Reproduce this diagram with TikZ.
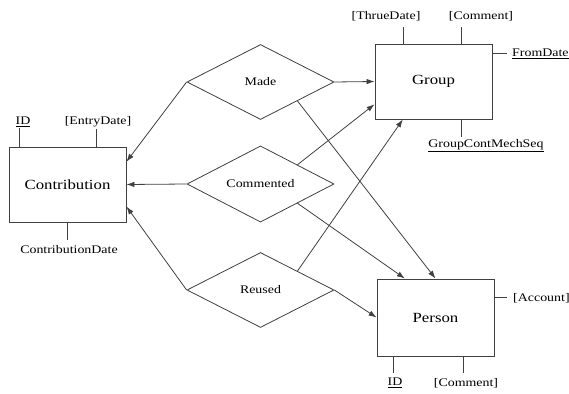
\documentclass[tikz,border=0pt]{standalone}
\usepackage{fontspec}
\setmainfont[FakeStretch=1.2]{Liberation Serif}
\usetikzlibrary{shapes.geometric,arrows.meta,calc}
\begin{document}
\begin{tikzpicture}[x=1pt,y=-1pt,
  ent/.style={draw=black!75, line width=0.9pt, minimum width=117pt, minimum height=75pt, inner sep=0pt, font=\fontsize{14}{16}\selectfont},
  rel/.style={diamond, draw=black!75, line width=0.8pt, minimum width=147pt, minimum height=75pt, inner sep=0pt, font=\fontsize{11.6}{13}\selectfont},
  attr/.style={inner sep=0pt, font=\fontsize{11.6}{13}\selectfont},
  link/.style={draw=black!75, line width=0.8pt},
  arr/.style={link, -{Latex[length=8pt,width=5.5pt]}},
]
\useasboundingbox (0,0) rectangle (569,393);
% entities
\node[ent] (contrib) at (67.5,184.5) {Contribution};
\node[ent] (group) at (433.5,81.5) {Group};
\node[ent, minimum height=77pt] (person) at (435.5,317.5) {Person};
% relationships
\node[rel] (made) at (260.5,82) {Made};
\node[rel] (comm) at (260.5,184) {Commented};
\node[rel] (reused) at (260.5,290) {Reused};
% connectors
\draw[arr] (made.west) -- ($(contrib.north east)!0.2!(contrib.south east)$);
\draw[arr] (made.east) -- (group.west);
\draw[arr] ($(made.east)!0.5!(made.south)$) -- (person.north);
\draw[arr] (comm.west) -- (contrib.east);
\draw[arr] ($(comm.east)!0.5!(comm.north)$) -- ($(group.north west)!0.8!(group.south west)$);
\draw[arr] ($(comm.east)!0.5!(comm.south)$) -- ($(person.north west)!0.24!(person.north east)$);
\draw[arr] (reused.west) -- ($(contrib.north east)!0.79!(contrib.south east)$);
\draw[arr] ($(reused.east)!0.5!(reused.north)$) -- ($(group.south west)!0.24!(group.south east)$);
\draw[arr] (reused.east) -- (person.west);
% attributes of Contribution
\node[attr] (cid) at (23,122) {\underline{ID}};
\node[attr] (centry) at (98,122) {[EntryDate]};
\node[attr] (cdate) at (69,250) {ContributionDate};
\draw[link] ($(contrib.north west)+(11,0)$) -- ++(0,-19);
\draw[link] ($(contrib.north west)+(88,0)$) -- ++(0,-18);
\draw[link] ($(contrib.south west)+(59,0)$) -- ++(0,18);
% attributes of Group
\node[attr] (gthru) at (386,16) {[ThrueDate]};
\node[attr] (gcom) at (481,16) {[Comment]};
\node[attr, anchor=west] (gfrom) at (512,54) {\underline{FromDate}};
\node[attr] (gseq) at (486,146) {\underline{GroupContMechSeq}};
\draw[link] ($(group.north west)+(29,0)$) -- ++(0,-17);
\draw[link] ($(group.north west)+(87,0)$) -- ++(0,-17);
\draw[link] ($(group.north east)+(0,10)$) -- ++(15,0);
\draw[link] ($(group.south west)+(87,0)$) -- ++(0,18);
% attributes of Person
\node[attr, anchor=west] (pacc) at (513,298) {[Account]};
\node[attr] (pid) at (395,383) {\underline{ID}};
\node[attr] (pcom) at (466,383) {[Comment]};
\draw[link] ($(person.north east)+(0,19)$) -- ++(13,0);
\draw[link] ($(person.south west)+(17,0)$) -- ++(0,17);
\draw[link] ($(person.south west)+(87,0)$) -- ++(0,17);
\end{tikzpicture}
\end{document}
